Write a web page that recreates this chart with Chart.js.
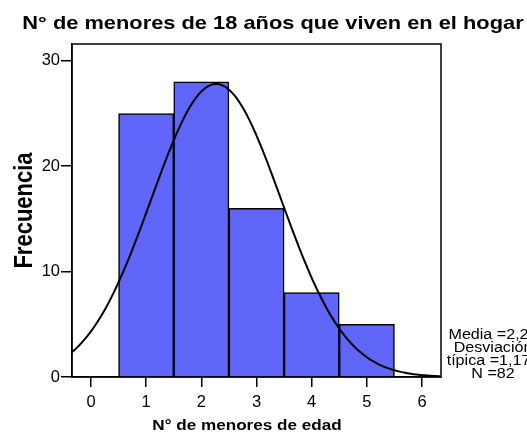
<!DOCTYPE html>
<html>
<head>
<meta charset="utf-8">
<script src="https://cdn.jsdelivr.net/npm/chart.js@4.4.1/dist/chart.umd.min.js"></script>
<style>
  html, body { margin: 0; padding: 0; background: #fff; }
  #wrap { width: 527px; height: 434px; }
</style>
</head>
<body>
<div id="wrap"><canvas id="chart"></canvas></div>
<script>
// DATA
// =============================================================================
const chartTitle = 'N° de menores de 18 años que viven en el hogar';
const xTitle = 'N° de menores de edad';
const yTitle = 'Frecuencia';

const categories = [1, 2, 3, 4, 5];        // n° de menores (bin centres)
const frequencies = [25, 28, 16, 8, 5];    // counts per bin
const xTickValues = [0, 1, 2, 3, 4, 5, 6];
const yTickValues = [0, 10, 20, 30];

// Axis ranges
const xMin = -0.344, xMax = 6.344;
const yMin = 0, yMax = 31.6;

// STATS + FITTED NORMAL CURVE
// =============================================================================
const n = frequencies.reduce((a, b) => a + b, 0);
const mean = categories.reduce((s, c, i) => s + c * frequencies[i], 0) / n;
const sd = Math.sqrt(categories.reduce((s, c, i) => s + frequencies[i] * (c - mean) ** 2, 0) / (n - 1));

// expected count for a bin of width 1 under N(mean, sd)
const normalCount = (x) => n * Math.exp(-0.5 * ((x - mean) / sd) ** 2) / (sd * Math.sqrt(2 * Math.PI));

const curvePoints = [];
for (let x = xMin; x <= xMax + 1e-9; x += 0.04) {
  curvePoints.push({ x: x, y: normalCount(x) });
}

const comma = (v, d) => v.toFixed(d).replace('.', ',');
const statsLines = [
  'Media =' + comma(mean, 2),
  'Desviación',
  'típica =' + comma(sd, 3),
  'N =' + n
];

// TEXT HELPERS
// =============================================================================
const FONT = '"Liberation Sans", Arial, sans-serif';

// draws text stretched along the picture's horizontal direction
const drawText = (ctx, text, x, y, font, align, sx, vertical) => {
  ctx.save();
  ctx.translate(x, y);
  if (vertical) {
    ctx.rotate(-Math.PI / 2);
    ctx.scale(1, sx);
  } else {
    ctx.scale(sx, 1);
  }
  ctx.font = font;
  ctx.fillStyle = '#000';
  ctx.textAlign = align;
  ctx.textBaseline = 'alphabetic';
  ctx.fillText(text, 0, 0);
  ctx.restore();
};

const framePlugin = {
  id: 'framePlugin',
  afterDraw(chart) {
    const { ctx, chartArea: a } = chart;
    ctx.save();
    ctx.strokeStyle = '#000';
    ctx.lineWidth = 1.5;
    ctx.strokeRect(a.left, a.top, a.right - a.left, a.bottom - a.top);
    ctx.restore();

    drawText(ctx, chartTitle, 273, 29, 'bold 18.5px ' + FONT, 'center', 1.18);
    drawText(ctx, xTitle, 247, 429.5, 'bold 14.5px ' + FONT, 'center', 1.18);
    drawText(ctx, yTitle, 32, (a.top + a.bottom) / 2, 'bold 22px ' + FONT, 'center', 1.18, true);

    statsLines.forEach((line, i) => {
      drawText(ctx, line, 493, 338.5 + i * 13.3, '14px ' + FONT, 'center', 1.15);
    });
  }
};

// CHART
// =============================================================================
const ctx = document.getElementById('chart').getContext('2d');

new Chart(ctx, {
  data: {
    datasets: [
      {
        type: 'line',
        data: curvePoints,
        borderColor: '#000',
        borderWidth: 2,
        pointRadius: 0,
        fill: false,
        tension: 0
      },
      {
        type: 'bar',
        data: categories.map((c, i) => ({ x: c, y: frequencies[i] })),
        backgroundColor: '#6066fa',
        borderColor: '#000',
        borderWidth: 1.5,
        barPercentage: 1,
        categoryPercentage: 1
      }
    ]
  },
  options: {
    responsive: true,
    maintainAspectRatio: false,
    animation: false,
    events: [],
    layout: {
      padding: { top: 44, right: 86, left: 0, bottom: 0 }
    },
    plugins: {
      legend: { display: false },
      tooltip: { enabled: false },
      title: { display: false }
    },
    scales: {
      x: {
        type: 'linear',
        offset: false,
        min: xMin,
        max: xMax,
        afterBuildTicks: (s) => { s.ticks = xTickValues.map(v => ({ value: v })); },
        afterFit: (s) => { s.height = 57; },
        ticks: {
          color: '#000',
          padding: 6,
          font: { family: FONT, size: 16.5 }
        },
        grid: {
          offset: false,
          drawOnChartArea: false,
          color: '#000',
          lineWidth: 1.5,
          tickLength: 10
        },
        border: { color: '#000', width: 1.5 }
      },
      y: {
        type: 'linear',
        min: yMin,
        max: yMax,
        afterBuildTicks: (s) => { s.ticks = yTickValues.map(v => ({ value: v })); },
        afterFit: (s) => { s.width = 72; },
        ticks: {
          color: '#000',
          padding: 1,
          font: { family: FONT, size: 16.5 }
        },
        grid: {
          drawOnChartArea: false,
          color: '#000',
          lineWidth: 1.5,
          tickLength: 11
        },
        border: { color: '#000', width: 1.5 }
      }
    }
  },
  plugins: [framePlugin]
});
</script>
</body>
</html>
